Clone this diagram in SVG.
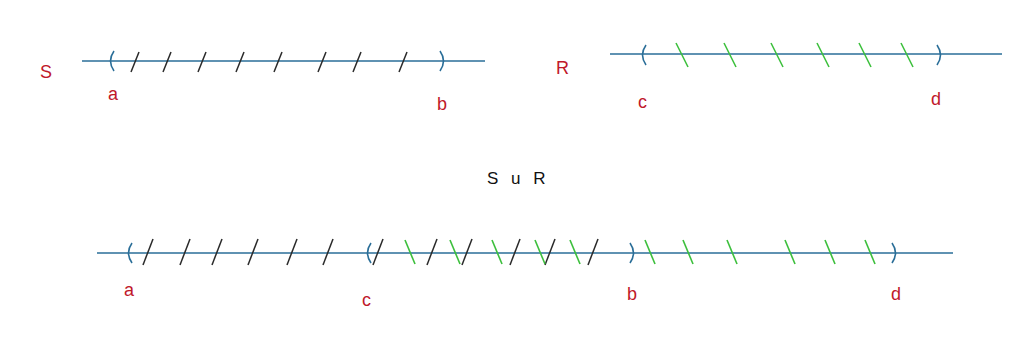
<svg xmlns="http://www.w3.org/2000/svg" xmlns:xlink="http://www.w3.org/1999/xlink" width="1019" height="354" viewBox="0 0 1019 354">
<style>
.axis{stroke:#2a6e98;stroke-width:1.5;fill:none}
.br{stroke:#2a6e98;stroke-width:1.6;fill:none}
.k{stroke:#2a2a2a;stroke-width:1.5;fill:none}
.g{stroke:#3cbf3c;stroke-width:1.6;fill:none}
.lbl{font-family:"Liberation Sans",Arial,sans-serif;font-size:18px;fill:#c0182a}
.ttl{font-family:"Liberation Sans",Arial,sans-serif;font-size:17px;fill:#111}
</style>
<defs>
<path id="ob" d="M3,-10 Q-4,0 3,10"/>
<path id="cb" d="M-3,-10 Q4,0 -3,10"/>
<path id="ks" d="M4,-10 L-4,10"/>
<path id="gs" d="M-6,-12 L6,12"/>
<path id="kb" d="M5,-13 L-5,13"/>
<path id="gb" d="M-5,-12 L5,12"/>
</defs>
<rect width="1019" height="354" fill="#ffffff"/>
<g id="setS">
<text class="lbl" x="40" y="78">S</text>
<line class="axis" x1="82" y1="61" x2="485" y2="61"/>
<use href="#ob" class="br" x="111" y="61"/>
<use href="#cb" class="br" x="443" y="61"/>
<g class="k">
<use href="#ks" x="135" y="62"/><use href="#ks" x="167" y="62"/><use href="#ks" x="202" y="62"/><use href="#ks" x="240" y="62"/><use href="#ks" x="278" y="62"/><use href="#ks" x="322" y="62"/><use href="#ks" x="357" y="62"/><use href="#ks" x="403" y="62"/>
</g>
<text class="lbl" x="108" y="100">a</text>
<text class="lbl" x="437" y="110">b</text>
</g>
<g id="setR">
<text class="lbl" x="556" y="74">R</text>
<line class="axis" x1="610" y1="54" x2="1002" y2="54"/>
<use href="#ob" class="br" x="643" y="55"/>
<use href="#cb" class="br" x="940" y="55"/>
<g class="g">
<use href="#gs" x="682" y="55"/><use href="#gs" x="730" y="55"/><use href="#gs" x="777" y="55"/><use href="#gs" x="823" y="55"/><use href="#gs" x="865" y="55"/><use href="#gs" x="907" y="55"/>
</g>
<text class="lbl" x="638" y="108">c</text>
<text class="lbl" x="931" y="105">d</text>
</g>
<g id="title">
<text class="ttl" x="487" y="184" word-spacing="8">S u R</text>
</g>
<g id="union">
<line class="axis" x1="97" y1="253" x2="953" y2="253"/>
<use href="#ob" class="br" x="129" y="253"/>
<use href="#ob" class="br" x="368" y="253"/>
<use href="#cb" class="br" x="633" y="253"/>
<use href="#cb" class="br" x="895" y="253"/>
<g class="k">
<use href="#kb" x="148" y="252"/><use href="#kb" x="185" y="252"/><use href="#kb" x="217" y="252"/><use href="#kb" x="253" y="252"/><use href="#kb" x="292" y="252"/><use href="#kb" x="328" y="252"/><use href="#kb" x="378" y="252"/><use href="#kb" x="432" y="252"/><use href="#kb" x="467" y="252"/><use href="#kb" x="515" y="252"/><use href="#kb" x="550" y="252"/><use href="#kb" x="593" y="252"/>
</g>
<g class="g">
<use href="#gb" x="410" y="252"/><use href="#gb" x="455" y="252"/><use href="#gb" x="497" y="252"/><use href="#gb" x="540" y="252"/><use href="#gb" x="575" y="252"/><use href="#gb" x="650" y="252"/><use href="#gb" x="688" y="252"/><use href="#gb" x="732" y="252"/><use href="#gb" x="790" y="252"/><use href="#gb" x="830" y="252"/><use href="#gb" x="870" y="252"/>
</g>
<text class="lbl" x="124" y="296">a</text>
<text class="lbl" x="362" y="306">c</text>
<text class="lbl" x="627" y="300">b</text>
<text class="lbl" x="891" y="300">d</text>
</g>
</svg>
